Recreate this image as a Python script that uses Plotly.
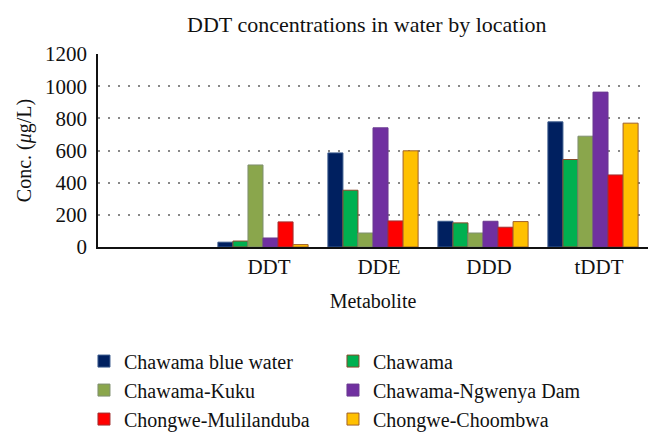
import plotly.graph_objects as go

metabolites = ["DDT", "DDE", "DDD", "tDDT"]
locations = ["Chawama blue water", "Chawama", "Chawama-Kuku",
             "Chawama-Ngwenya Dam", "Chongwe-Mulilanduba", "Chongwe-Choombwa"]
blue_water = [30, 585, 160, 778]
chawama = [37, 353, 150, 544]
kuku = [510, 87, 87, 689]
ngwenya = [56, 741, 160, 963]
mulilanduba = [156, 162, 123, 448]
choombwa = [15, 598, 158, 770]
y_ticks = [0, 200, 400, 600, 800, 1000, 1200]

series = [blue_water, chawama, kuku, ngwenya, mulilanduba, choombwa]
colors = ["#002060", "#00B050", "#8AA64C", "#7030A0", "#FF0000", "#FFC000"]
edges = ["#3a5a8c", "#8B4A2B", "#7f8f70", "#6a3a90", "#a03030", "#a0602a"]

# an empty leading category slot precedes the metabolites
xpos = [i + 1 for i in range(len(metabolites))]

FONT = "Liberation Serif"
fig = go.Figure()
for name, vals, c, e in zip(locations, series, colors, edges):
    fig.add_trace(go.Bar(x=xpos, y=vals, name=name,
                         marker=dict(color=c, line=dict(color=e, width=1))))

fig.update_layout(
    width=662, height=442,
    margin=dict(l=90, r=22, t=46, b=203, autoexpand=False),
    paper_bgcolor="white", plot_bgcolor="white",
    barmode="group", bargap=0.18, bargroupgap=0,
    font=dict(family=FONT, size=20, color="#111"),
    title=dict(text="DDT concentrations in water by location", x=0.542, xanchor="center",
               xref="container", y=0.962, yanchor="middle",
               font=dict(family=FONT, size=22, color="#111")),
    xaxis=dict(range=[-0.5, len(metabolites) + 0.5], tickvals=xpos, ticktext=metabolites,
               showgrid=False, showline=True, linecolor="#111", linewidth=1.5,
               ticks="", zeroline=False, automargin=False, ticklabelshift=6,
               title=dict(text="Metabolite", standoff=16, font=dict(family=FONT, size=20)),
               tickfont=dict(family=FONT, size=21)),
    yaxis=dict(range=[0, 1200], tickvals=y_ticks, showgrid=True, gridcolor="#888",
               griddash="2px,8px", gridwidth=1.5, showline=True, linecolor="#111",
               linewidth=1.5, ticks="", zeroline=False, automargin=False,
               ticklabelstandoff=5,
               title=dict(text="Conc. (<i>μ</i>g/L)", standoff=8, font=dict(family=FONT, size=20)),
               tickfont=dict(family=FONT, size=21)),
    legend=dict(orientation="h", x=-0.0255, xanchor="left", y=-0.49, yanchor="top",
                entrywidth=204, entrywidthmode="pixels", traceorder="normal",
                font=dict(family=FONT, size=20), tracegroupgap=0),
)

fig.write_html("out.html")
